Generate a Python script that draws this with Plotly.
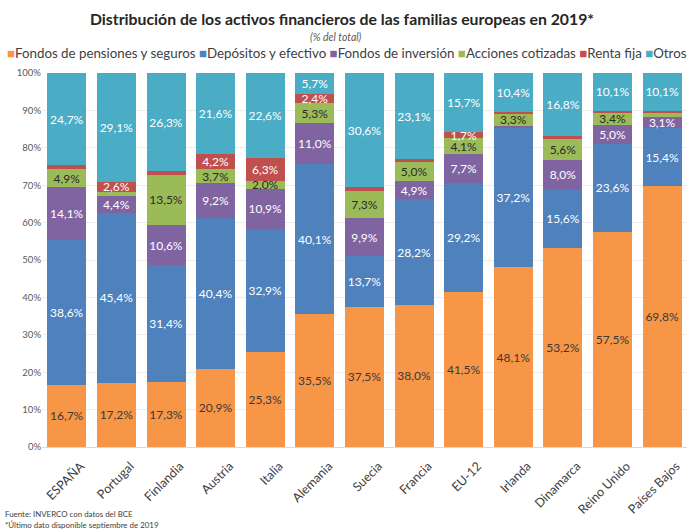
import plotly.graph_objects as go

categories = ["ESPAÑA", "Portugal", "Finlandia", "Austria", "Italia", "Alemania", "Suecia",
              "Francia", "EU-12", "Irlanda", "Dinamarca", "Reino Unido", "Países Bajos"]

pensiones = [16.7, 17.2, 17.3, 20.9, 25.3, 35.5, 37.5, 38.0, 41.5, 48.1, 53.2, 57.5, 69.8]
depositos = [38.6, 45.4, 31.4, 40.4, 32.9, 40.1, 13.7, 28.2, 29.2, 37.2, 15.6, 23.6, 15.4]
fondos_inv = [14.1, 4.4, 10.6, 9.2, 10.9, 11.0, 9.9, 4.9, 7.7, 0.5, 8.0, 5.0, 3.1]
acciones = [4.9, 1.3, 13.5, 3.7, 2.0, 5.3, 7.3, 5.0, 4.1, 3.3, 5.6, 3.4, 1.0]
renta_fija = [1.0, 2.6, 0.9, 4.2, 6.3, 2.4, 1.0, 0.8, 1.7, 0.5, 0.8, 0.4, 0.6]
otros = [24.7, 29.1, 26.3, 21.6, 22.6, 5.7, 30.6, 23.1, 15.7, 10.4, 16.8, 10.1, 10.1]

series_names = ["Fondos de pensiones y seguros", "Depósitos y efectivo", "Fondos de inversión",
                "Acciones cotizadas", "Renta fija", "Otros"]
series_values = [pensiones, depositos, fondos_inv, acciones, renta_fija, otros]
colors = ["#F79646", "#4F81BD", "#8064A2", "#9BBB59", "#C0504D", "#4BACC6"]
label_colors = ["#3a3a3a", "white", "white", "#2a2a2a", "white", "white"]

y_ticks = [0, 10, 20, 30, 40, 50, 60, 70, 80, 90, 100]
y_tick_labels = [f"{t}%" for t in y_ticks]

title = "Distribución de los activos financieros de las familias europeas en 2019*"
subtitle = "(% del total)"
source = "Fuente: INVERCO con datos del BCE"
note = "*Último dato disponible septiembre de 2019"

FONT = "Lato"

fig = go.Figure()
for name, vals, col, lcol in zip(series_names, series_values, colors, label_colors):
    texts = [(f"{v:.1f}%".replace(".", ",") if v >= 1.5 else "") for v in vals]
    fig.add_trace(go.Bar(
        x=categories, y=vals, name=name, marker=dict(color=col, line=dict(width=0)),
        text=texts, textposition="inside", insidetextanchor="middle", textangle=0,
        textfont=dict(color=lcol, size=12, family=FONT), showlegend=False,
        hoverinfo="x+y+name",
    ))

W, H = 692, 530
L, R, T, B = 42, 5, 73, 83
ph = H - T - B
pw = W - L - R

def py(p):
    return (H - B - p) / ph

def px(p):
    return (p - L) / pw

legend_html = " ".join(
    f"<span style='color:{c}'>■</span>{n}" for n, c in zip(series_names, colors)
)

fig.update_layout(
    width=W, height=H,
    margin=dict(l=L, r=R, t=T, b=B),
    barmode="stack", bargap=0.215,
    plot_bgcolor="white", paper_bgcolor="white",
    font=dict(family=FONT, color="#404040"),
    uniformtext=dict(minsize=12, mode="show"),
    title=dict(text=f"<b>{title}</b>", x=342 / W, xanchor="center", y=1 - 19 / H, yanchor="middle",
               font=dict(size=15.8, color="#262626", family=FONT)),
    xaxis=dict(tickangle=-45, tickfont=dict(size=12.5, color="#404040"), showline=True,
               linecolor="#d9d9d9", ticks="", showgrid=False,
               ticklabelshift=14, ticklabelstandoff=6),
    yaxis=dict(range=[0, 100], tickvals=y_ticks, ticktext=y_tick_labels,
               tickfont=dict(size=9.5, color="#595959"), showgrid=True, gridcolor="#ececec",
               zeroline=False, ticks="", ticklen=0),
    annotations=[
        dict(text=f"<i>{subtitle}</i>", xref="paper", yref="paper", x=px(336), y=py(37),
             showarrow=False, font=dict(size=10.5, color="#595959"), xanchor="center", yanchor="middle"),
        dict(text=legend_html, xref="paper", yref="paper", x=px(347), y=py(53),
             showarrow=False, font=dict(size=13.3, color="#404040"), xanchor="center", yanchor="middle"),
        dict(text=source, xref="paper", yref="paper", x=px(3), y=py(514),
             showarrow=False, font=dict(size=7.9, color="#404040"), xanchor="left", yanchor="middle"),
        dict(text=note, xref="paper", yref="paper", x=px(3), y=py(525),
             showarrow=False, font=dict(size=7.9, color="#404040"), xanchor="left", yanchor="middle"),
    ],
)

fig.write_html("out.html", config={"displayModeBar": False},
               post_script="document.body.style.margin='0';document.body.style.overflow='hidden';")
